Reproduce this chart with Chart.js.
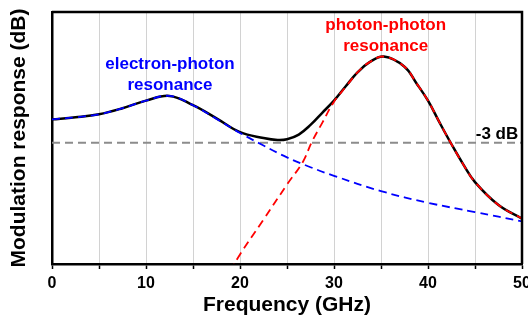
<!DOCTYPE html>
<html>
<head>
<meta charset="utf-8">
<script src="https://cdn.jsdelivr.net/npm/chart.js@4/dist/chart.umd.min.js"></script>
<style>
  body { margin: 0; background: #fff; }
  #wrap { width: 528px; height: 322px; }
</style>
</head>
<body>
<div id="wrap"><canvas id="myChart"></canvas></div>
<script>
// DATA (dB relative to the low-frequency level)
const totalFreq = [0, 2.5, 5, 7.5, 10, 12.5, 15, 17.5, 20, 22.5, 24, 25, 26.25, 27.5, 28.75, 30, 31.25, 32.5, 33.75, 35.3, 37.5, 38.75, 40, 41.25, 42.5, 43.75, 45, 47.5, 50];
const totalResp = [0, 0.26, 0.65, 1.42, 2.39, 3.0, 1.81, 0.13, -1.65, -2.39, -2.65, -2.55, -1.95, -0.72, 0.84, 2.39, 4.23, 6.0, 7.29, 8.03, 6.74, 4.65, 2.39, -0.45, -3.19, -5.77, -8.03, -10.97, -12.71];

const epFreq = [0, 2.5, 5, 7.5, 10, 12.5, 15, 17.5, 20, 22.5, 25, 27.5, 30, 35, 40, 45, 50];
const epResp = [0, 0.26, 0.65, 1.42, 2.39, 3.0, 1.81, 0.06, -1.74, -3.35, -4.87, -6.13, -7.23, -9.19, -10.68, -11.87, -13.06];

const ppFreq = [19.0, 20, 22.5, 25, 26.7, 27.6, 28.75, 30, 31.25, 32.5, 33.75, 35.3, 37.5, 38.75, 40, 41.25, 42.5, 43.75, 45, 47.5, 50];
const ppResp = [-19.4, -17.29, -12.84, -8.35, -5.42, -3.0, -0.45, 2.26, 4.16, 6.0, 7.29, 8.03, 6.74, 4.65, 2.39, -0.45, -3.19, -5.77, -8.03, -10.97, -12.71];

const cutoffLevel = -3;
const xTicks = [0, 10, 20, 30, 40, 50];

function toPoints(xs, ys) {
  return xs.map((x, i) => ({ x: x, y: ys[i] }));
}

const FONT = "'Liberation Sans', Arial, sans-serif";

// text labels in data coordinates
const notes = [
  { text: "electron-photon", x: 12.55, y: 7.1, color: "#0000ff", align: "center" },
  { text: "resonance", x: 12.55, y: 4.4, color: "#0000ff", align: "center" },
  { text: "photon-photon", x: 35.5, y: 12.07, color: "#ff0000", align: "center" },
  { text: "resonance", x: 35.5, y: 9.39, color: "#ff0000", align: "center" },
  { text: "-3 dB", x: 49.6, y: -1.87, color: "#000", align: "right" },
];

const notesPlugin = {
  id: "notes",
  afterDraw(chart) {
    const { ctx, chartArea, scales } = chart;
    ctx.save();
    // box: top and right edges
    ctx.strokeStyle = "#000";
    ctx.lineWidth = 2.5;
    ctx.beginPath();
    ctx.moveTo(chartArea.left, chartArea.top);
    ctx.lineTo(chartArea.right, chartArea.top);
    ctx.lineTo(chartArea.right, chartArea.bottom);
    ctx.stroke();
    ctx.font = "bold 17px " + FONT;
    ctx.textBaseline = "middle";
    notes.forEach((n) => {
      ctx.fillStyle = n.color;
      ctx.textAlign = n.align;
      ctx.fillText(n.text, scales.x.getPixelForValue(n.x), scales.y.getPixelForValue(n.y));
    });
    ctx.restore();
  },
};

let ctx = document.getElementById("myChart").getContext("2d");
var myChart = new Chart(ctx, {
  type: "line",
  data: {
    datasets: [
      {
        label: "total",
        data: toPoints(totalFreq, totalResp),
        borderColor: "#000",
        borderWidth: 2.5,
        order: 3,
      },
      {
        label: "electron-photon",
        data: toPoints(epFreq, epResp),
        borderColor: "#0000ff",
        borderWidth: 1.8,
        borderDash: [8, 5],
        order: 1,
      },
      {
        label: "photon-photon",
        data: toPoints(ppFreq, ppResp),
        borderColor: "#ff0000",
        borderWidth: 1.8,
        borderDash: [8, 5],
        order: 1,
      },
      {
        label: "-3 dB",
        data: toPoints([xTicks[0], xTicks[xTicks.length - 1]], [cutoffLevel, cutoffLevel]),
        borderColor: "#8c8c8c",
        borderWidth: 1.8,
        borderDash: [8, 5],
        tension: 0,
        order: 4,
      },
    ],
  },
  options: {
    responsive: true,
    maintainAspectRatio: false,
    animation: false,
    layout: { autoPadding: false, padding: { top: 12, right: 6, left: 0, bottom: 0 } },
    elements: {
      point: { radius: 0 },
      line: { tension: 0.4, fill: false },
    },
    plugins: { legend: { display: false }, tooltip: { enabled: false } },
    scales: {
      x: {
        type: "linear",
        min: 0,
        max: 50,
        afterFit: (scale) => {
          scale.height = 58;
          scale.paddingLeft = 0;
          scale.paddingRight = 0;
        },
        ticks: {
          stepSize: 5,
          autoSkip: false,
          maxRotation: 0,
          padding: 5,
          color: "#000",
          font: { family: FONT, size: 16, weight: "bold" },
          callback: (v) => (xTicks.includes(v) ? v : ""),
        },
        grid: {
          color: "#d2d2d2",
          lineWidth: 1,
          tickColor: "#000",
          tickLength: 5,
          tickWidth: 1.5,
        },
        border: { color: "#000", width: 2.5 },
        title: {
          display: true,
          text: "Frequency (GHz)",
          color: "#000",
          font: { family: FONT, size: 21, weight: "bold", lineHeight: 1.2 },
          padding: { top: 0, bottom: 4 },
        },
      },
      y: {
        min: -18.52,
        max: 13.74,
        afterFit: (scale) => { scale.width = 52; },
        ticks: { display: false },
        grid: { display: false },
        border: { color: "#000", width: 2.5 },
        title: {
          display: true,
          text: "Modulation response (dB)",
          color: "#000",
          font: { family: FONT, size: 21, weight: "bold", lineHeight: 1.2 },
          padding: { top: 7, bottom: 0 },
        },
      },
    },
  },
  plugins: [notesPlugin],
});
</script>
</body>
</html>
